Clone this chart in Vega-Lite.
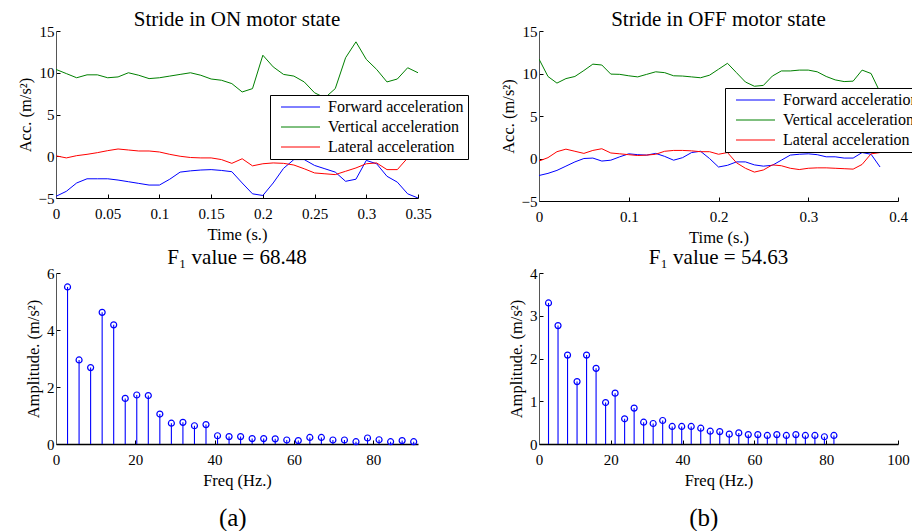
{
  "$schema": "https://vega.github.io/schema/vega-lite/v6.json",
  "background": "white",
  "padding": {"left": 17, "top": 9, "right": 0, "bottom": 0},
  "config": {
    "font": "Liberation Serif",
    "view": {"stroke": null},
    "title": {"font": "Liberation Serif", "fontSize": 21, "fontWeight": "normal", "color": "black", "offset": -6},
    "axis": {
      "labelFont": "Liberation Serif", "labelFontSize": 15, "labelColor": "black", "labelFlush": false, "labelOverlap": false,
      "titleFont": "Liberation Serif", "titleFontSize": 16.5, "titleFontWeight": "normal", "titleColor": "black",
      "domainColor": "black", "tickColor": "black", "tickSize": -4, "labelPadding": 6, "titlePadding": 5, "grid": false
    },
    "axisX": {"labelPadding": 12},
    "axisY": {"domainColor": "#555"},
    "legend": {
      "labelFont": "Liberation Serif", "labelFontSize": 16, "labelColor": "black",
      "strokeColor": "black", "fillColor": "white", "padding": 4, "symbolOffset": 18.5, "labelOffset": 19.5, "rowPadding": 4,
      "symbolType": "M-3.9,0H3.9", "symbolSize": 100, "symbolStrokeWidth": 1
    }
  },
  "datasets": {
    "on": [
      {"t": 0, "Forward acceleration": -4.8, "Vertical acceleration": 10.4, "Lateral acceleration": 0.05},
      {"t": 0.01, "Forward acceleration": -4.2, "Vertical acceleration": 9.9, "Lateral acceleration": -0.2},
      {"t": 0.02, "Forward acceleration": -3.2, "Vertical acceleration": 9.4, "Lateral acceleration": 0.07},
      {"t": 0.03, "Forward acceleration": -2.7, "Vertical acceleration": 9.75, "Lateral acceleration": 0.23},
      {"t": 0.04, "Forward acceleration": -2.7, "Vertical acceleration": 9.75, "Lateral acceleration": 0.43},
      {"t": 0.05, "Forward acceleration": -2.7, "Vertical acceleration": 9.4, "Lateral acceleration": 0.67},
      {"t": 0.06, "Forward acceleration": -2.85, "Vertical acceleration": 9.5, "Lateral acceleration": 0.87},
      {"t": 0.07, "Forward acceleration": -3.05, "Vertical acceleration": 10.0, "Lateral acceleration": 0.75},
      {"t": 0.08, "Forward acceleration": -3.25, "Vertical acceleration": 9.7, "Lateral acceleration": 0.63},
      {"t": 0.09, "Forward acceleration": -3.45, "Vertical acceleration": 9.3, "Lateral acceleration": 0.63},
      {"t": 0.1, "Forward acceleration": -3.45, "Vertical acceleration": 9.4, "Lateral acceleration": 0.51},
      {"t": 0.11, "Forward acceleration": -2.75, "Vertical acceleration": 9.6, "Lateral acceleration": 0.23},
      {"t": 0.12, "Forward acceleration": -1.9, "Vertical acceleration": 9.8, "Lateral acceleration": 0.0},
      {"t": 0.13, "Forward acceleration": -1.75, "Vertical acceleration": 10.0, "Lateral acceleration": -0.15},
      {"t": 0.14, "Forward acceleration": -1.65, "Vertical acceleration": 9.7, "Lateral acceleration": -0.2},
      {"t": 0.15, "Forward acceleration": -1.6, "Vertical acceleration": 9.25, "Lateral acceleration": -0.2},
      {"t": 0.16, "Forward acceleration": -1.7, "Vertical acceleration": 9.1, "Lateral acceleration": -0.4},
      {"t": 0.17, "Forward acceleration": -1.85, "Vertical acceleration": 8.7, "Lateral acceleration": -0.85},
      {"t": 0.18, "Forward acceleration": -3.2, "Vertical acceleration": 7.7, "Lateral acceleration": -0.3},
      {"t": 0.19, "Forward acceleration": -4.5, "Vertical acceleration": 8.1, "Lateral acceleration": -1.15},
      {"t": 0.2, "Forward acceleration": -4.7, "Vertical acceleration": 12.1, "Lateral acceleration": -0.9},
      {"t": 0.21, "Forward acceleration": -3.2, "Vertical acceleration": 10.7, "Lateral acceleration": -0.8},
      {"t": 0.22, "Forward acceleration": -1.45, "Vertical acceleration": 9.8, "Lateral acceleration": -0.85},
      {"t": 0.23, "Forward acceleration": -0.4, "Vertical acceleration": 9.6, "Lateral acceleration": -1.05},
      {"t": 0.24, "Forward acceleration": -0.4, "Vertical acceleration": 8.9, "Lateral acceleration": -1.5},
      {"t": 0.25, "Forward acceleration": -1.1, "Vertical acceleration": 7.6, "Lateral acceleration": -2.0},
      {"t": 0.26, "Forward acceleration": -1.5, "Vertical acceleration": 7.0, "Lateral acceleration": -2.1},
      {"t": 0.27, "Forward acceleration": -1.9, "Vertical acceleration": 8.1, "Lateral acceleration": -2.2},
      {"t": 0.28, "Forward acceleration": -3.0, "Vertical acceleration": 11.8, "Lateral acceleration": -1.8},
      {"t": 0.29, "Forward acceleration": -2.75, "Vertical acceleration": 13.7, "Lateral acceleration": -1.4},
      {"t": 0.3, "Forward acceleration": -0.5, "Vertical acceleration": 11.6, "Lateral acceleration": -0.9},
      {"t": 0.31, "Forward acceleration": -0.9, "Vertical acceleration": 10.4, "Lateral acceleration": -0.8},
      {"t": 0.32, "Forward acceleration": -2.4, "Vertical acceleration": 8.9, "Lateral acceleration": -1.6},
      {"t": 0.33, "Forward acceleration": -3.1, "Vertical acceleration": 9.25, "Lateral acceleration": -1.6},
      {"t": 0.34, "Forward acceleration": -4.5, "Vertical acceleration": 10.6, "Lateral acceleration": -0.2},
      {"t": 0.35, "Forward acceleration": -5.0, "Vertical acceleration": 10.0, "Lateral acceleration": 0.5}
    ],
    "off": [
      {"t": 0, "Forward acceleration": -2.0, "Vertical acceleration": 11.7, "Lateral acceleration": -0.3},
      {"t": 0.01, "Forward acceleration": -1.75, "Vertical acceleration": 9.65, "Lateral acceleration": 0.1},
      {"t": 0.02, "Forward acceleration": -1.4, "Vertical acceleration": 8.87, "Lateral acceleration": 0.8},
      {"t": 0.03, "Forward acceleration": -0.9, "Vertical acceleration": 9.4, "Lateral acceleration": 1.1},
      {"t": 0.04, "Forward acceleration": -0.4, "Vertical acceleration": 9.65, "Lateral acceleration": 0.85},
      {"t": 0.05, "Forward acceleration": 0.0, "Vertical acceleration": 10.35, "Lateral acceleration": 0.6},
      {"t": 0.06, "Forward acceleration": 0.05, "Vertical acceleration": 11.1, "Lateral acceleration": 0.95},
      {"t": 0.07, "Forward acceleration": -0.3, "Vertical acceleration": 11.0, "Lateral acceleration": 1.15},
      {"t": 0.08, "Forward acceleration": -0.2, "Vertical acceleration": 9.93, "Lateral acceleration": 0.65},
      {"t": 0.09, "Forward acceleration": 0.2, "Vertical acceleration": 9.9, "Lateral acceleration": 0.55},
      {"t": 0.1, "Forward acceleration": 0.55, "Vertical acceleration": 9.73, "Lateral acceleration": 0.45},
      {"t": 0.11, "Forward acceleration": 0.45, "Vertical acceleration": 9.6, "Lateral acceleration": 0.35},
      {"t": 0.12, "Forward acceleration": 0.4, "Vertical acceleration": 9.9, "Lateral acceleration": 0.4},
      {"t": 0.13, "Forward acceleration": 0.6, "Vertical acceleration": 10.2, "Lateral acceleration": 0.5},
      {"t": 0.14, "Forward acceleration": 0.25, "Vertical acceleration": 10.1, "Lateral acceleration": 0.85},
      {"t": 0.15, "Forward acceleration": -0.2, "Vertical acceleration": 9.73, "Lateral acceleration": 0.95},
      {"t": 0.16, "Forward acceleration": 0.1, "Vertical acceleration": 9.7, "Lateral acceleration": 0.95},
      {"t": 0.17, "Forward acceleration": 0.7, "Vertical acceleration": 9.6, "Lateral acceleration": 0.9},
      {"t": 0.18, "Forward acceleration": 0.85, "Vertical acceleration": 9.5, "Lateral acceleration": 0.8},
      {"t": 0.19, "Forward acceleration": 0.0, "Vertical acceleration": 9.8, "Lateral acceleration": 0.8},
      {"t": 0.2, "Forward acceleration": -1.0, "Vertical acceleration": 10.5, "Lateral acceleration": 0.5},
      {"t": 0.21, "Forward acceleration": -0.8, "Vertical acceleration": 11.2, "Lateral acceleration": 0.7},
      {"t": 0.22, "Forward acceleration": -0.4, "Vertical acceleration": 10.1, "Lateral acceleration": -0.5},
      {"t": 0.23, "Forward acceleration": -0.4, "Vertical acceleration": 9.0, "Lateral acceleration": -1.15},
      {"t": 0.24, "Forward acceleration": -0.75, "Vertical acceleration": 8.5, "Lateral acceleration": -1.6},
      {"t": 0.25, "Forward acceleration": -0.9, "Vertical acceleration": 8.6, "Lateral acceleration": -1.35},
      {"t": 0.26, "Forward acceleration": -0.8, "Vertical acceleration": 9.7, "Lateral acceleration": -0.75},
      {"t": 0.27, "Forward acceleration": -0.2, "Vertical acceleration": 10.3, "Lateral acceleration": -0.85},
      {"t": 0.28, "Forward acceleration": 0.4, "Vertical acceleration": 10.3, "Lateral acceleration": -1.15},
      {"t": 0.29, "Forward acceleration": 0.5, "Vertical acceleration": 10.4, "Lateral acceleration": -1.3},
      {"t": 0.3, "Forward acceleration": 0.55, "Vertical acceleration": 10.4, "Lateral acceleration": -1.15},
      {"t": 0.31, "Forward acceleration": 0.45, "Vertical acceleration": 10.2, "Lateral acceleration": -1.1},
      {"t": 0.32, "Forward acceleration": 0.2, "Vertical acceleration": 9.65, "Lateral acceleration": -1.1},
      {"t": 0.33, "Forward acceleration": 0.2, "Vertical acceleration": 9.25, "Lateral acceleration": -1.15},
      {"t": 0.34, "Forward acceleration": 0.05, "Vertical acceleration": 9.05, "Lateral acceleration": -1.2},
      {"t": 0.35, "Forward acceleration": 0.05, "Vertical acceleration": 9.1, "Lateral acceleration": -1.25},
      {"t": 0.36, "Forward acceleration": 0.7, "Vertical acceleration": 10.4, "Lateral acceleration": -0.7},
      {"t": 0.37, "Forward acceleration": 0.5, "Vertical acceleration": 10.0, "Lateral acceleration": 0.55},
      {"t": 0.38, "Forward acceleration": -1.0, "Vertical acceleration": 7.8, "Lateral acceleration": 0.7}
    ],
    "specOn": [
      {"f": 2.91, "a": 5.51}, {"f": 5.82, "a": 2.95}, {"f": 8.73, "a": 2.68}, {"f": 11.64, "a": 4.62},
      {"f": 14.55, "a": 4.18}, {"f": 17.46, "a": 1.6}, {"f": 20.37, "a": 1.72}, {"f": 23.28, "a": 1.7},
      {"f": 26.19, "a": 1.05}, {"f": 29.1, "a": 0.73}, {"f": 32.01, "a": 0.76}, {"f": 34.92, "a": 0.64},
      {"f": 37.83, "a": 0.68}, {"f": 40.74, "a": 0.29}, {"f": 43.65, "a": 0.26}, {"f": 46.56, "a": 0.26},
      {"f": 49.47, "a": 0.19}, {"f": 52.38, "a": 0.19}, {"f": 55.29, "a": 0.18}, {"f": 58.2, "a": 0.14},
      {"f": 61.11, "a": 0.12}, {"f": 64.02, "a": 0.23}, {"f": 66.93, "a": 0.23}, {"f": 69.84, "a": 0.14},
      {"f": 72.75, "a": 0.14}, {"f": 75.66, "a": 0.08}, {"f": 78.57, "a": 0.21}, {"f": 81.48, "a": 0.15},
      {"f": 84.39, "a": 0.08}, {"f": 87.3, "a": 0.12}, {"f": 90.21, "a": 0.08}
    ],
    "specOff": [
      {"f": 2.65, "a": 3.3}, {"f": 5.3, "a": 2.77}, {"f": 7.95, "a": 2.08}, {"f": 10.6, "a": 1.46},
      {"f": 13.25, "a": 2.08}, {"f": 15.9, "a": 1.77}, {"f": 18.55, "a": 0.97}, {"f": 21.2, "a": 1.19},
      {"f": 23.85, "a": 0.59}, {"f": 26.5, "a": 0.84}, {"f": 29.15, "a": 0.51}, {"f": 31.8, "a": 0.48},
      {"f": 34.45, "a": 0.55}, {"f": 37.1, "a": 0.41}, {"f": 39.75, "a": 0.41}, {"f": 42.4, "a": 0.41},
      {"f": 45.05, "a": 0.37}, {"f": 47.7, "a": 0.3}, {"f": 50.35, "a": 0.29}, {"f": 53, "a": 0.23},
      {"f": 55.65, "a": 0.26}, {"f": 58.3, "a": 0.22}, {"f": 60.95, "a": 0.22}, {"f": 63.6, "a": 0.2},
      {"f": 66.25, "a": 0.22}, {"f": 68.9, "a": 0.2}, {"f": 71.55, "a": 0.22}, {"f": 74.2, "a": 0.2},
      {"f": 76.85, "a": 0.2}, {"f": 79.5, "a": 0.17}, {"f": 82.15, "a": 0.2}
    ]
  },
  "spacing": 31,
  "resolve": {"scale": {"color": "independent"}, "legend": {"color": "independent"}},
  "hconcat": [
    {
      "bounds": "flush",
      "spacing": 75,
      "title": {"text": "(a)", "orient": "bottom", "fontSize": 25, "anchor": "middle", "dx": -10, "offset": 17},
      "resolve": {"scale": {"color": "independent"}, "legend": {"color": "independent"}},
      "vconcat": [
        {
          "width": 362, "height": 167,
          "title": {"text": "Stride in ON motor state", "frame": "group"},
          "data": {"name": "on"},
          "transform": [{"fold": ["Forward acceleration", "Vertical acceleration", "Lateral acceleration"], "as": ["series", "acc"]}],
          "mark": {"type": "line", "strokeWidth": 1, "clip": true},
          "encoding": {
            "x": {"field": "t", "type": "quantitative", "scale": {"domain": [0, 0.35], "nice": false},
                  "axis": {"values": [0, 0.05, 0.1, 0.15, 0.2, 0.25, 0.3, 0.35], "format": "~g", "title": "Time (s.)"}},
            "y": {"field": "acc", "type": "quantitative", "scale": {"domain": [-5, 15], "nice": false},
                  "axis": {"values": [-5, 0, 5, 10, 15], "format": "~g", "title": "Acc. (m/s²)"}},
            "color": {"field": "series", "type": "nominal", "sort": null,
                      "scale": {"domain": ["Forward acceleration", "Vertical acceleration", "Lateral acceleration"], "range": ["#0000ff", "#008000", "#ff0000"]},
                      "legend": {"orient": "none", "legendX": 214, "legendY": 64, "title": null}}
          }
        },
        {
          "width": 362, "height": 171,
          "title": {"text": "F₁ value = 68.48", "frame": "group", "offset": -2},
          "data": {"name": "specOn"},
          "encoding": {
            "x": {"field": "f", "type": "quantitative", "scale": {"domain": [0, 91.3], "nice": false},
                  "axis": {"values": [0, 20, 40, 60, 80], "title": "Freq (Hz.)", "domainWidth": 1.5}},
            "y": {"field": "a", "type": "quantitative", "scale": {"domain": [0, 6], "nice": false},
                  "axis": {"values": [0, 2, 4, 6], "title": "Amplitude. (m/s²)"}}
          },
          "layer": [
            {"mark": {"type": "rule", "color": "#0000ff", "strokeWidth": 1.1}, "encoding": {"y2": {"datum": 0}}},
            {"mark": {"type": "point", "shape": "circle", "filled": false, "color": "#0000ff", "size": 36, "strokeWidth": 1.2, "opacity": 1}}
          ]
        }
      ]
    },
    {
      "bounds": "flush",
      "spacing": 72,
      "title": {"text": "(b)", "orient": "bottom", "fontSize": 25, "anchor": "middle", "dx": -8, "offset": 17},
      "resolve": {"scale": {"color": "independent"}, "legend": {"color": "independent"}},
      "vconcat": [
        {
          "width": 359, "height": 170,
          "title": {"text": "Stride in OFF motor state", "frame": "group"},
          "data": {"name": "off"},
          "transform": [{"fold": ["Forward acceleration", "Vertical acceleration", "Lateral acceleration"], "as": ["series", "acc"]}],
          "mark": {"type": "line", "strokeWidth": 1, "clip": true},
          "encoding": {
            "x": {"field": "t", "type": "quantitative", "scale": {"domain": [0, 0.4], "nice": false},
                  "axis": {"values": [0, 0.1, 0.2, 0.3, 0.4], "format": "~g", "title": "Time (s.)"}},
            "y": {"field": "acc", "type": "quantitative", "scale": {"domain": [-5, 15], "nice": false},
                  "axis": {"values": [-5, 0, 5, 10, 15], "format": "~g", "title": "Acc. (m/s²)"}},
            "color": {"field": "series", "type": "nominal", "sort": null,
                      "scale": {"domain": ["Forward acceleration", "Vertical acceleration", "Lateral acceleration"], "range": ["#0000ff", "#008000", "#ff0000"]},
                      "legend": {"orient": "none", "legendX": 186, "legendY": 57, "title": null}}
          }
        },
        {
          "width": 359, "height": 171,
          "title": {"text": "F₁ value = 54.63", "frame": "group", "offset": -2},
          "data": {"name": "specOff"},
          "encoding": {
            "x": {"field": "f", "type": "quantitative", "scale": {"domain": [0, 100], "nice": false},
                  "axis": {"values": [0, 20, 40, 60, 80, 100], "title": "Freq (Hz.)", "domainWidth": 1.5}},
            "y": {"field": "a", "type": "quantitative", "scale": {"domain": [0, 4], "nice": false},
                  "axis": {"values": [0, 1, 2, 3, 4], "title": "Amplitude. (m/s²)"}}
          },
          "layer": [
            {"mark": {"type": "rule", "color": "#0000ff", "strokeWidth": 1.1}, "encoding": {"y2": {"datum": 0}}},
            {"mark": {"type": "point", "shape": "circle", "filled": false, "color": "#0000ff", "size": 36, "strokeWidth": 1.2, "opacity": 1}}
          ]
        }
      ]
    }
  ]
}
